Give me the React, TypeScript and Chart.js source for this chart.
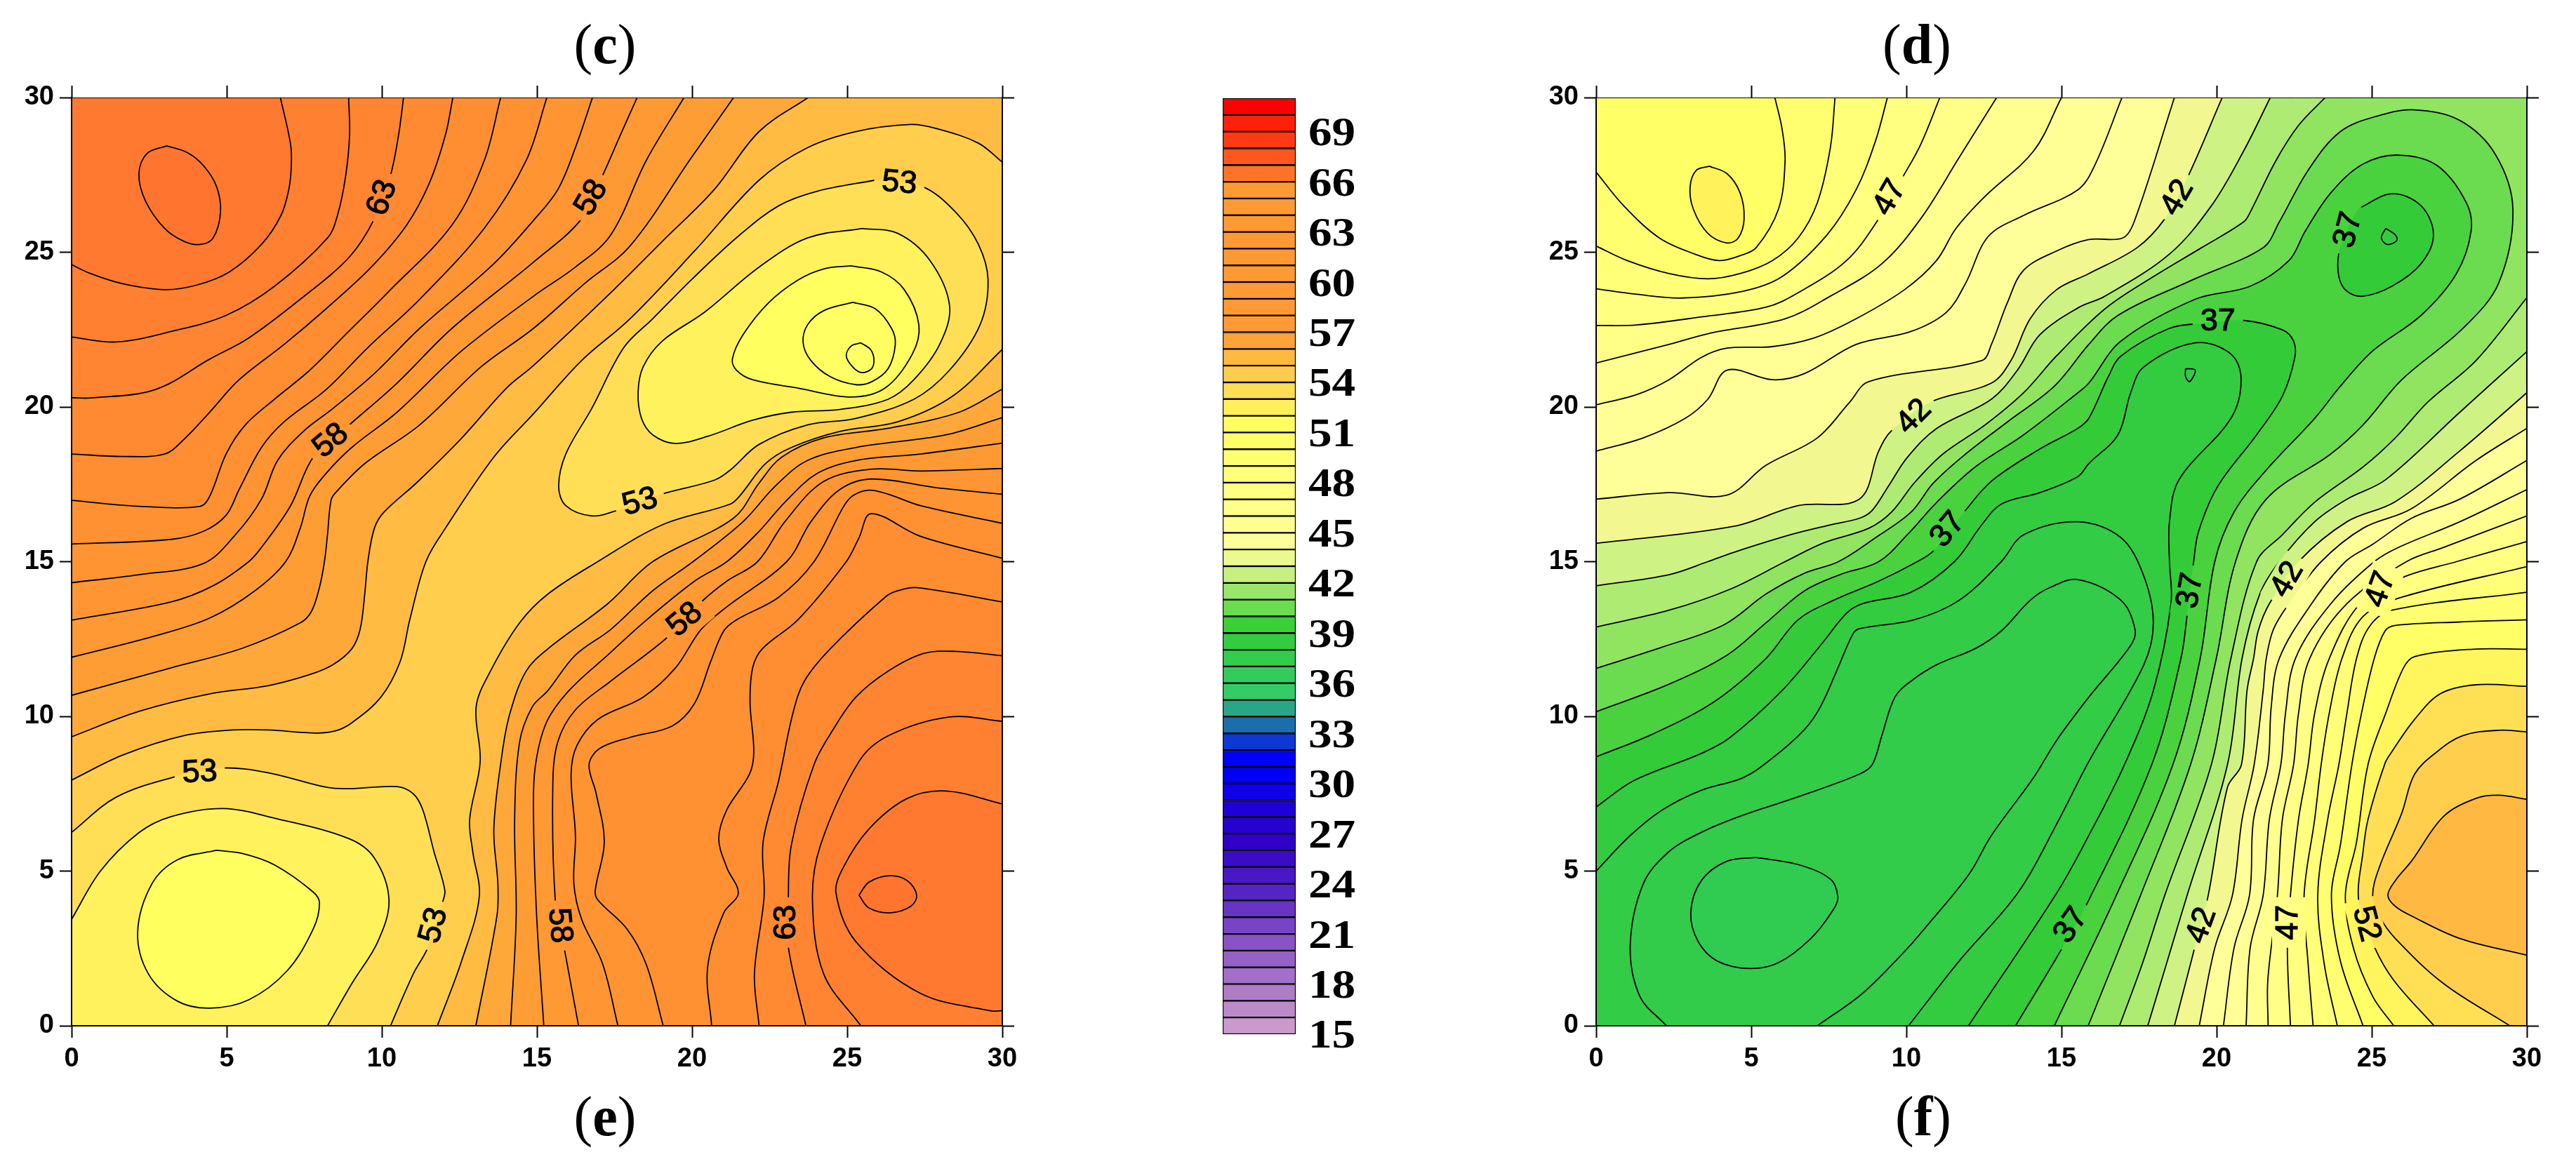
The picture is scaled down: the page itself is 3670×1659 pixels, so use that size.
import { useEffect, useRef } from 'react'
import { Chart, registerables } from 'chart.js'

Chart.register(...registerables)

type Pt = [number, number]
interface Piece { color: string; pts: Pt[]; corners?: Pt[]; closed?: boolean }
interface ContourLabel { text: string; x: number; y: number; rot: number }

// left panel contour lines, [x, y] in map units
const c66a: Pt[] = [[3.06,28.44],[2.43,28.19],[2.17,27.54],[2.38,26.66],[3,25.77],[3.63,25.35],[4.15,25.25],[4.56,25.46],[4.8,26.29],[4.67,27.13],[4.25,27.8],[3.73,28.22]]
const c65a: Pt[] = [[6.73,30],[7.06,28.48],[7.08,27.75],[7,27.02],[6.75,26.19],[6.12,25.25],[5.08,24.36],[4.04,23.94],[3,23.79],[1.65,23.98],[0.61,24.31],[0,24.6]]
const c64a: Pt[] = [[8.93,30],[8.96,28.79],[8.83,27.44],[8.57,26.19],[8.25,25.46],[6.54,23.9],[4.98,22.96],[3.21,22.44],[1.44,22.1],[0,22.26]]
const c63a: Pt[] = [[10.7,30],[10.54,28.79],[10.28,27.49],[9.76,26.08],[8.94,24.83],[7.37,23.48],[5.71,22.23],[4.46,21.55],[2.69,20.56],[0.61,20.29],[0,20.3]]
const c62a: Pt[] = [[12.29,30],[12.05,28.79],[11.53,27.23],[10.8,25.88],[9.66,24.52],[8.2,23.17],[6.85,22.02],[5.4,20.88],[4.46,19.84],[3.63,18.96],[3,18.48],[1.65,18.4],[0,18.48]]
const c61a: Pt[] = [[13.83,30],[13.3,27.96],[12.26,25.88],[10.18,23.69],[8.93,22.44],[7.68,21.19],[6.54,20.25],[5.6,19.42],[4.98,18.48],[4.46,17.13],[4.15,16.79],[2.17,16.79],[0,16.98]]
const c60a: Pt[] = [[15.32,30],[14.65,27.96],[13.3,25.77],[11.22,23.48],[9.55,21.92],[8.2,20.56],[6.85,19.52],[6.12,18.69],[5.4,17.33],[4.98,16.5],[4.25,15.98],[3.21,15.72],[0,15.57]]
const c59a: Pt[] = [[16.79,30],[16.24,28.38],[15.67,27.02],[14.89,26.03],[13.61,24.63],[11.22,22.54],[9.76,21.08],[8.41,19.94],[7.47,19.21],[6.64,18.27],[6.12,17.02],[5.29,15.88],[4.25,14.94],[2.17,14.58],[0,14.32]]
const c58a: Pt[] = [[18.23,30],[17.69,28.79],[17.12,27.49],[16.44,26.08],[14.89,24.68],[12.26,22.54],[10.49,20.77],[8.93,19.4],[7.79,18.38],[7.06,16.81],[6.12,15.46],[5.71,15],[4.56,14.22],[3.21,13.7],[0,13.11]]
const c57a: Pt[] = [[19.74,30],[18.52,27.96],[17.38,25.56],[16.24,24.52],[14.89,23.58],[12.57,21.81],[10.49,19.83],[9.03,18.69],[8.2,17.85],[7.68,17.13],[7.37,16.08],[6.9,15],[5.91,14.06],[4.46,13.18],[2.69,12.6],[0,11.91]]
const c56a: Pt[] = [[21.34,30],[19.98,28.06],[18,25.2],[16.55,24],[14.89,22.54],[13.19,21.29],[11.22,19.42],[9.45,18.17],[8.51,17.23],[8.36,16.97],[8.25,15.88],[8.15,15],[7.99,14.17],[7.73,13.39],[7.37,13.02],[5.5,12.2],[3.21,11.57],[0,10.68]]
const c55a: Pt[] = [[23.74,30],[22.16,28.9],[20.71,27.02],[19.04,25.35],[17.48,23.79],[14.89,21.34],[14.02,20.61],[12.57,18.99],[11.11,17.54],[10.07,16.6],[9.76,16.08],[9.55,15],[9.45,13.96],[9.3,12.81],[9.03,12.18],[8.41,11.66],[7.68,11.35],[6.33,10.99],[4.46,10.73],[2.17,10.16],[0,9.34]]
const c54a: Pt[] = [[30,27.91],[29.22,28.53],[27.87,29],[27.05,29.13],[25.28,28.9],[23.72,28.38],[22.16,27.33],[20.08,25.04],[18,22.85],[16.44,21.5],[14.89,19.78],[13.61,18.38],[12.05,16.08],[11.42,15],[10.9,13.12],[10.59,11.77],[9.97,10.62],[9.03,9.79],[8.51,9.53],[7.89,9.46],[6.33,9.56],[5.19,9.56],[3.63,9.38],[1.65,8.75],[0,7.94]]
const c54b: Pt[] = [[11.79,0],[12.57,2.09],[13.14,4.17],[12.93,5.63],[12.83,6.67],[13.17,8.54],[13.04,10.31],[13.5,11.46],[14.44,13.02],[15.35,13.95],[16.96,15],[19.04,16.19],[21.23,16.86],[21.54,17.13],[22.37,18.17],[23.2,18.69],[24.76,19.21],[26.63,19.52],[28.4,20.35],[30,21.86]]
const c55b: Pt[] = [[13.03,0],[13.71,3.55],[13.74,4.59],[13.61,6.36],[13.87,8.75],[14.13,10.1],[14.65,11.46],[15.35,12.18],[17.28,13.64],[18.73,15],[21.33,16.4],[22.16,17.54],[22.89,18.38],[24.24,19],[26.32,19.31],[28.61,19.83],[30,20.58]]
const c56b: Pt[] = [[14.15,0],[14.33,3.55],[14.28,6.67],[14.44,9.17],[14.85,10.31],[15.35,10.83],[16.24,11.98],[17.38,12.81],[18.73,14.06],[20.03,15],[21.64,16.29],[22.68,17.44],[23.72,18.27],[25.28,18.69],[28.19,19.1],[30,19.66]]
const c57b: Pt[] = [[15.22,0],[14.99,3.55],[14.89,6.67],[14.94,8.33],[15.3,9.79],[16.03,10.83],[17.28,11.98],[18.42,13.02],[20.08,14.37],[21.12,15],[22.16,15.98],[22.99,16.92],[24.03,17.85],[25.28,18.27],[27.36,18.48],[30,18.83]]
const c58b: Pt[] = [[16.34,0],[15.87,2.56],[15.59,4.07],[15.51,7.71],[15.67,9.17],[16.24,10.21],[17.38,11.14],[19.2,12.55],[20.29,13.69],[21.12,14.37],[22.11,15],[22.99,16.29],[24.24,17.59],[25.8,17.99],[27.36,17.93],[30,18.01]]
const c59b: Pt[] = [[17.61,0],[17.12,1.99],[16.44,3.44],[16.19,4.59],[16.24,6.15],[16.1,8.13],[16.29,9.06],[16.96,9.9],[18.42,10.62],[19.46,11.56],[20.29,12.81],[21.12,13.54],[23.05,15],[23.83,16.29],[24.76,17.33],[25.8,17.67],[27.88,17.39],[30,17.18]]
const c60b: Pt[] = [[19.07,0],[18.52,1.99],[17.9,3.13],[16.96,4.07],[16.88,4.38],[17.17,5.94],[16.91,7.5],[16.68,8.44],[17.02,8.96],[18,9.32],[19.36,9.69],[20.08,10.42],[20.6,11.77],[21.02,12.76],[21.43,13.12],[22.79,13.85],[23.93,15],[24.87,16.76],[25.18,17.13],[25.7,17.31],[26.32,17.18],[27.36,16.81],[30,16.24]]
const c61b: Pt[] = [[20.63,0],[20.5,1.88],[21.02,3.65],[21.49,4.28],[21.12,5.11],[20.86,6.05],[21.12,6.98],[21.85,8.13],[21.99,8.86],[21.87,10.42],[21.95,11.56],[22.27,12.19],[23.41,13.12],[24.97,15],[25.38,15.77],[25.77,16.55],[27.36,15.82],[30,15.11]]
const c62b: Pt[] = [[22.16,0],[22.01,1.68],[22.32,4.17],[22.29,5.94],[22.79,7.92],[23.25,10.1],[23.62,11.14],[24.45,12.18],[26.22,13.85],[26.63,14.06],[27.26,14.16],[30,13.7]]
const c63b: Pt[] = [[23.67,0],[23.1,2.56],[23.1,4.07],[23.2,5.84],[23.93,8.44],[24.55,9.58],[25.28,10.62],[26.32,11.46],[27.46,12.03],[28.5,12.1],[30,11.96]]
const c64b: Pt[] = [[25.44,0],[24.24,1.68],[23.88,4.07],[24.14,5.84],[25.38,8.54],[26.32,9.37],[28.29,9.98],[30,9.84]]
const c65b: Pt[] = [[30,7.17],[28.19,7.59],[26.94,7.35],[25.7,6.36],[24.87,5.11],[24.64,4.28],[25.28,2.72],[27.36,1.05],[29.65,0.48],[30,0.49]]
const c66b: Pt[] = [[25.38,4.22],[25.7,4.64],[26.37,4.85],[26.94,4.69],[27.24,4.22],[27.05,3.86],[26.37,3.65],[25.7,3.81]]
const c53a: Pt[] = [[0,6.25],[1.44,7.39],[3.42,8.07],[4.89,8.33],[6.33,8.18],[8.2,7.71],[8.93,7.66],[10.49,7.73],[11.01,7.5],[11.32,6.98],[11.68,5.63],[12.03,4.38],[11.95,3.97],[11.48,2.52],[11.01,1.67],[10.28,0]]
const c52a: Pt[] = [[0,3.44],[0.93,5],[2.17,6.24],[3.21,6.76],[4.88,7.02],[6.54,6.71],[8.93,6.05],[9.76,5.42],[10.23,4.07],[9.87,2.72],[9.03,1.36],[8.25,0]]
const c51a: Pt[] = [[4.67,5.67],[3.42,5.37],[2.59,4.59],[2.13,3.03],[2.48,1.67],[3.42,0.79],[4.46,0.57],[5.71,0.84],[6.95,1.78],[7.79,3.13],[7.99,3.96],[7.79,4.32],[6.54,5.2],[5.5,5.57]]
const c53b: Pt[] = [[25.9,27.33],[27.41,27.13],[28.5,26.29],[29.23,25.25],[29.54,24.1],[29.28,22.65],[28.3,21.19],[27.15,20.25],[25.28,19.63],[23.72,19.42],[22.16,18.79],[21.23,17.96],[20.71,17.63],[19.01,17.18],[17.59,16.66],[16.76,16.48],[15.93,16.81],[15.7,17.44],[15.93,18.48],[16.76,19.94],[17.8,21.92],[18.73,22.85],[20.08,24.21],[21.54,25.56],[22.79,26.5],[24.03,26.97]]
const c52b: Pt[] = [[25.49,25.77],[26.63,25.61],[27.67,24.73],[28.3,23.27],[27.98,22.02],[27.15,20.88],[26.32,20.25],[24.76,19.92],[23.2,19.83],[21.95,19.57],[20.5,19.05],[19.46,18.82],[18.73,19.1],[18.37,19.63],[18.26,20.46],[18.42,21.29],[19.04,22.13],[20.4,23.06],[22.16,24.52],[23.72,25.46]]
const c51b: Pt[] = [[25.12,24.56],[26.11,24.36],[26.84,23.79],[27.31,22.65],[27.1,21.71],[26.22,20.61],[25.12,20.32],[23.41,20.61],[21.95,20.88],[21.43,21.19],[21.3,21.55],[21.64,22.33],[22.47,23.37],[23.41,24.1],[24.24,24.46]]
const c50b: Pt[] = [[25.18,23.38],[25.91,23.17],[26.43,22.54],[26.55,22.02],[26.32,21.24],[25.8,20.82],[25.28,20.72],[24.45,20.98],[23.83,21.5],[23.58,22.07],[23.72,22.65],[24.24,23.11]]
const c49b: Pt[] = [[25.44,22.07],[25.75,21.86],[25.86,21.55],[25.79,21.24],[25.47,21.11],[25.18,21.29],[24.97,21.65],[25.13,21.97]]

// right panel contour lines
const d51a: Pt[] = [[3.65,27.78],[3.23,27.65],[3.03,27.12],[3.13,26.4],[3.6,25.61],[4.22,25.3],[4.58,25.46],[4.77,26.08],[4.64,26.92],[4.22,27.54]]
const d50a: Pt[] = [[5.76,30],[5.99,29],[6.09,27.96],[5.88,26.4],[5.16,25.15],[4.64,24.89],[3.96,24.73],[3.18,24.94],[2.04,25.46],[0.89,26.5],[0,27.59]]
const d49a: Pt[] = [[7.7,30],[7.55,28.38],[7.13,26.6],[6.51,25.46],[5.68,24.73],[4.64,24.31],[3.6,24.14],[2.35,24.31],[1,24.73],[0,25.2]]
const d48a: Pt[] = [[9.39,30],[9,28.58],[8.38,27.02],[7.44,25.56],[5.99,24.21],[4.74,23.74],[2.77,23.52],[1.31,23.64],[0,23.82]]
const d47a: Pt[] = [[11.08,30],[10.46,28.48],[9.89,27.44],[9.11,26.08],[8.07,24.73],[6.51,23.69],[5.47,23.22],[3.39,22.91],[1.31,22.65],[0,22.63]]
const d46a: Pt[] = [[12.91,30],[11.7,28.06],[10.46,26.08],[9.21,24.63],[7.55,23.58],[6.09,22.85],[3.7,22.39],[2.35,22.02],[0,21.42]]
const d45a: Pt[] = [[15,30],[14.1,28.27],[12.54,26.81],[11.6,25.77],[10.97,24.73],[9.94,23.79],[8.38,22.85],[7.03,22.23],[5.68,21.95],[4.22,21.9],[3.39,21.6],[2.35,20.88],[1.31,20.4],[0,20.07]]
const d44a: Pt[] = [[16.95,30],[16.09,27.85],[15.53,27.02],[13.78,26.19],[12.64,25.51],[11.91,24],[11.29,23.06],[10.15,22.44],[8.38,22.02],[6.72,21.08],[5.68,20.88],[4.22,21.19],[3.6,20.25],[2.87,19.63],[1.52,19],[0,18.57]]
const d43a: Pt[] = [[18.64,30],[17.34,25.98],[16.97,25.46],[15.88,25.41],[14.84,25.04],[13.78,24.42],[13.26,23.38],[12.74,22.02],[12.43,21.5],[8.79,20.82],[8.17,20.15],[7.13,19],[5.47,18.11],[4.22,17.15],[2.35,17.23],[0,17.02]]
const d42a: Pt[] = [[20.18,30],[19.05,27.39],[18.33,26.08],[17.44,25.15],[15.88,24.31],[14.84,23.79],[13.99,22.85],[13.37,21.5],[12.74,20.77],[10.77,20.15],[9.52,19.23],[9.11,18.58],[8.48,17.02],[6.51,16.81],[4.43,16.14],[0,15.59]]
const d41a: Pt[] = [[21.73,30],[20.87,28.27],[19.83,26.5],[18.48,24.94],[16.4,23.58],[15.53,23.2],[14.3,22.33],[13.58,21.19],[12.74,20.25],[10.98,19.31],[10.04,18.38],[9.42,17.44],[8.9,16.66],[8.48,16.4],[7.55,16.19],[6.3,15.88],[4.43,15.3],[3.6,15],[2.35,14.58],[0,14.22]]
const d40a: Pt[] = [[23.5,30],[22.64,29.1],[21.91,27.96],[21.08,26.29],[20.87,25.98],[19.52,25.15],[17.96,24.21],[16.4,23.17],[14.84,21.65],[13.78,20.46],[12.54,19.42],[11.18,18.48],[10.25,17.54],[9.52,16.6],[8.79,16.08],[7.34,15.61],[6.09,15],[4.32,14.11],[2.35,13.43],[0,12.89]]
const d40b: Pt[] = [[16.87,0],[17.6,1.99],[18.33,4.22],[19.83,8.44],[20.46,11.87],[21.29,15],[22.12,15.87],[23.16,16.92],[24.72,18.06],[25.76,19],[26.8,20.15],[28.36,21.5],[30,23.53]]
const d41b: Pt[] = [[17.78,0],[18.38,1.99],[19.05,4.22],[20.35,8.44],[20.82,11.87],[21.39,13.95],[22.02,15],[23.16,16.29],[24.2,17.02],[25.45,17.65],[27.84,19.83],[30,21.79]]
const d42b: Pt[] = [[18.64,0],[19.29,2.51],[19.73,4.22],[20.35,7.71],[20.8,8.44],[20.98,10.83],[21.19,11.87],[21.34,12.76],[21.7,13.64],[22.66,15.02],[24.2,16.29],[25.76,16.94],[27.84,18.58],[30,20.46]]
const d43b: Pt[] = [[19.44,0],[19.94,2.51],[20.51,4.22],[20.82,6.67],[21.21,8.44],[21.5,10.83],[21.6,11.87],[21.83,12.81],[22.33,13.64],[23.37,15],[24.72,16.08],[26.28,16.71],[28.36,18.27],[30,19.31]]
const d44b: Pt[] = [[20.22,0],[20.56,2.51],[21.06,4.22],[21.19,6.67],[21.65,8.44],[21.76,10.31],[22.02,11.87],[23.06,13.64],[24.15,15],[25.03,15.56],[26.28,16.4],[27.84,17.02],[30,18.27]]
const d45b: Pt[] = [[20.95,0],[21.08,2.51],[21.5,4.22],[21.7,6.67],[22.07,8.44],[22.22,10.1],[22.54,11.87],[23.68,13.64],[25.08,15],[25.86,15.46],[27.84,16.29],[30,17.33]]
const d46b: Pt[] = [[21.66,0],[21.65,1.47],[21.96,4.22],[22.12,6.67],[22.48,8.44],[22.64,10.1],[23,11.87],[24.2,13.64],[26.12,15],[27.32,15.46],[30,16.48]]
const d47b: Pt[] = [[22.38,0],[22.28,2.51],[22.38,4.22],[22.64,6.67],[22.95,8.44],[23.16,10.1],[23.63,11.87],[24.62,13.64],[25.95,14.47],[27.73,15],[30,15.65]]
const d48b: Pt[] = [[23.11,0],[22.95,1.99],[22.82,4.22],[23.16,6.67],[23.37,8.44],[23.63,10.1],[24.04,11.87],[24.72,13.23],[25.97,13.85],[30,14.84]]
const d49b: Pt[] = [[23.89,0],[23.47,1.99],[23.26,4.22],[23.58,6.67],[23.94,8.44],[24.2,10.1],[24.51,11.87],[24.93,12.91],[25.65,13.43],[30,14.01]]
const d50b: Pt[] = [[24.72,0],[23.99,2.09],[23.7,4.22],[23.99,5.84],[24.36,8.44],[24.67,10.1],[25.08,11.87],[25.43,12.76],[25.76,12.94],[27.84,13.05],[30,13.12]]
const d51b: Pt[] = [[25.71,0],[25.03,0.95],[24.41,2.51],[24.15,4.22],[24.51,5.94],[24.88,8.44],[25.45,10.1],[26.02,11.56],[26.38,11.93],[28.25,12.17],[30,12.17]]
const d52b: Pt[] = [[27.01,0],[25.71,1.47],[25.08,2.56],[24.58,4.02],[24.72,5.63],[24.88,6.67],[25.43,8.49],[25.65,8.86],[26.38,9.9],[27.21,10.73],[28.36,11.02],[30,10.97]]
const d53b: Pt[] = [[29.45,0],[27.32,1.36],[25.76,2.82],[25.24,3.55],[25.03,4.22],[25.24,5.11],[25.97,6.88],[26.38,8.13],[27.11,8.86],[27.94,9.38],[29.09,9.55],[30,9.5]]
const d54b: Pt[] = [[30,7.32],[29.09,7.45],[28.36,7.35],[27.32,6.77],[26.28,5.32],[25.76,4.69],[25.52,4.22],[25.76,3.86],[26.28,3.55],[27.84,2.82],[30,2.28]]
const d39: Pt[] = [[0,11.55],[2.14,12.24],[4.12,12.96],[5.47,13.95],[6.72,14.63],[7.81,15],[9,15.77],[10.15,16.6],[10.87,17.54],[11.91,18.48],[13.26,19.52],[14.77,20.67],[15.88,22.02],[16.82,22.96],[19.21,24.1],[21.5,25.15],[22.02,25.98],[22.95,27.65],[23.99,28.9],[25.24,29.42],[26.38,29.6],[27.84,29.26],[28.98,28.17],[29.55,26.4],[29.09,24],[27.94,22.54],[25.97,20.88],[24.72,19.42],[23.68,18.48],[21.6,17.02],[20.61,15],[19.99,11.87],[19.16,8.44],[17.55,4.22],[15.86,0]]
const d38: Pt[] = [[0,10.15],[2.35,11.04],[4.22,11.98],[5.47,13.02],[6.72,14.06],[7.86,14.58],[9.11,15],[10.04,15.88],[10.98,16.92],[12.22,18.06],[13.78,19.1],[15.53,20.46],[15.88,20.77],[16.92,22.13],[19.31,23.48],[21.08,23.9],[22.33,24.73],[22.85,25.67],[23.68,26.92],[24.72,27.85],[25.86,28.14],[27.11,27.8],[28.05,26.6],[28.2,25.67],[27.73,24.31],[26.59,22.96],[25.03,21.81],[23.99,20.67],[23.16,19.63],[21.6,17.96],[20.56,16.6],[19.94,15],[19.47,11.87],[18.59,8.44],[16.77,4.22],[14.77,0]]
const d37a: Pt[] = [[0,8.69],[1.83,9.43],[3.8,10.47],[5.47,11.87],[6.51,13.12],[7.65,13.75],[9.11,14.37],[10.35,15],[10.87,15.35],[11.86,16.6],[12.74,17.6],[14.3,18.64],[15.53,19.31],[15.88,19.63],[16.51,20.98],[16.92,21.65],[18.48,22.54],[19.52,22.7],[20.82,22.8],[22.12,22.49],[22.48,22.13],[22.52,21.6],[22.12,20.35],[21.29,19.1],[20.04,17.44],[19.42,15.98],[19.26,15],[19.05,13.28],[18.85,11.87],[17.91,8.44],[15.78,3.86],[14.84,2.2],[13.52,0]]
const d37b: Pt[] = [[24.56,26.4],[25.65,26.89],[26.59,26.5],[26.99,25.56],[26.59,24.63],[25.65,23.9],[24.72,23.58],[24.2,23.74],[23.94,24.21],[23.94,24.99],[24.2,25.72]]
const d36a: Pt[] = [[0,7.07],[1.21,7.92],[3.39,8.8],[4.32,9.32],[5.99,10.83],[7.23,12.29],[8.07,13.33],[8.59,13.64],[10.15,14.01],[11.55,15],[12.43,16.19],[13.06,16.86],[14.3,17.23],[15.53,17.75],[15.88,18.17],[16.82,19.1],[17.23,20.46],[17.65,21.29],[19.31,22.07],[20.46,21.71],[20.79,20.88],[20.46,19.63],[18.79,17.65],[18.48,16.29],[18.48,15],[18.53,13.64],[17.96,10.83],[17.03,8.44],[15.88,6.15],[14.84,4.28],[12,0]]
const d36b: Pt[] = [[25.45,25.77],[25.76,25.56],[25.81,25.38],[25.5,25.25],[25.31,25.46]]
const d35a: Pt[] = [[0,5],[1.1,6.15],[2.14,6.98],[3.39,7.61],[4.74,8.02],[5.68,8.65],[6.72,9.58],[7.23,10.31],[7.75,11.46],[8.27,12.65],[8.48,12.83],[10.25,13.12],[11.7,13.75],[13.06,15],[13.78,15.87],[15.53,16.29],[16.92,15.77],[17.65,14.54],[17.96,13.02],[17.65,11.66],[15.88,8.54],[14.84,6.51],[13.58,4.28],[11.7,2.09],[10.07,0]]
const d35b: Pt[] = [[19,21.24],[19.31,21.19],[19.13,20.82],[19,20.98]]
const d34: Pt[] = [[2.27,0],[1.41,0.95],[1.1,2.61],[1.52,4.59],[2.35,5.63],[3.39,6.25],[4.64,6.77],[6.51,7.4],[8.48,8.13],[8.9,8.44],[9.21,9.38],[9.63,10.62],[10.15,11.14],[10.98,11.67],[12.22,12.19],[13.06,12.76],[13.99,13.75],[14.62,14.16],[15.53,14.42],[16.92,13.75],[17.37,12.81],[17.23,12.29],[15.88,10.62],[14.84,9.22],[14.1,8.02],[12.74,6.15],[12.02,4.9],[10.67,3.24],[9.94,2.4],[8.59,1.05],[7.13,0]]
const d33: Pt[] = [[5.16,5.44],[4.22,5.32],[3.39,4.69],[3.05,3.65],[3.29,2.72],[3.91,2.09],[4.95,1.85],[5.88,2.04],[6.92,2.82],[7.65,3.76],[7.79,4.17],[7.55,4.74],[6.51,5.21]]

// painted in this order, each piece closes over its own side of the line
const leftBase = '#FFCE4C'
const leftPieces: Piece[] = [
  { color: '#FFBB42', pts: c54a, corners: [[0, 30], [30, 30]] },
  { color: '#FFA83A', pts: c55a, corners: [[0, 30]] },
  { color: '#FF9D35', pts: c56a, corners: [[0, 30]] },
  { color: '#FF9933', pts: c57a, corners: [[0, 30]] },
  { color: '#FF9633', pts: c58a, corners: [[0, 30]] },
  { color: '#FF9433', pts: c59a, corners: [[0, 30]] },
  { color: '#FF9132', pts: c60a, corners: [[0, 30]] },
  { color: '#FF8E32', pts: c61a, corners: [[0, 30]] },
  { color: '#FF8A32', pts: c62a, corners: [[0, 30]] },
  { color: '#FF8532', pts: c63a, corners: [[0, 30]] },
  { color: '#FF8031', pts: c64a, corners: [[0, 30]] },
  { color: '#FF7A30', pts: c65a, corners: [[0, 30]] },
  { color: '#FF7530', pts: c66a, closed: true },
  { color: '#FFBB42', pts: c54b, corners: [[30, 0]] },
  { color: '#FFA83A', pts: c55b, corners: [[30, 0]] },
  { color: '#FF9D35', pts: c56b, corners: [[30, 0]] },
  { color: '#FF9933', pts: c57b, corners: [[30, 0]] },
  { color: '#FF9633', pts: c58b, corners: [[30, 0]] },
  { color: '#FF9433', pts: c59b, corners: [[30, 0]] },
  { color: '#FF9132', pts: c60b, corners: [[30, 0]] },
  { color: '#FF8E32', pts: c61b, corners: [[30, 0]] },
  { color: '#FF8A32', pts: c62b, corners: [[30, 0]] },
  { color: '#FF8532', pts: c63b, corners: [[30, 0]] },
  { color: '#FF8031', pts: c64b, corners: [[30, 0]] },
  { color: '#FF7A30', pts: c65b },
  { color: '#FF7530', pts: c66b, closed: true },
  { color: '#FFDF55', pts: c53a, corners: [[0, 0]] },
  { color: '#FFF25C', pts: c52a, corners: [[0, 0]] },
  { color: '#FFFF60', pts: c51a, closed: true },
  { color: '#FFDF55', pts: c53b, closed: true },
  { color: '#FFF25C', pts: c52b, closed: true },
  { color: '#FFFF60', pts: c51b, closed: true },
  { color: '#FFFF64', pts: c50b, closed: true },
  { color: '#FFFF66', pts: c49b, closed: true },
]
const leftLabels: ContourLabel[] = [
  { text: '63', x: 10.02, y: 26.76, rot: -70 },
  { text: '58', x: 8.36, y: 18.9, rot: -40 },
  { text: '58', x: 16.76, y: 26.76, rot: -60 },
  { text: '53', x: 26.68, y: 27.23, rot: 5 },
  { text: '53', x: 18.32, y: 16.92, rot: -15 },
  { text: '53', x: 4.13, y: 8.18, rot: -3 },
  { text: '53', x: 11.68, y: 3.24, rot: -75 },
  { text: '58', x: 15.72, y: 3.24, rot: 85 },
  { text: '63', x: 23.05, y: 3.34, rot: -90 },
  { text: '58', x: 19.77, y: 13.12, rot: -40 },
]

const rightBase = '#90E460'
const rightPieces: Piece[] = [
  { color: '#ADEB72', pts: d40a, corners: [[0, 30]] },
  { color: '#CEF283', pts: d41a, corners: [[0, 30]] },
  { color: '#F2F78F', pts: d42a, corners: [[0, 30]] },
  { color: '#FFFF99', pts: d43a, corners: [[0, 30]] },
  { color: '#FFFF96', pts: d44a, corners: [[0, 30]] },
  { color: '#FFFF90', pts: d45a, corners: [[0, 30]] },
  { color: '#FFFF88', pts: d46a, corners: [[0, 30]] },
  { color: '#FFFF80', pts: d47a, corners: [[0, 30]] },
  { color: '#FFFF78', pts: d48a, corners: [[0, 30]] },
  { color: '#FFFF70', pts: d49a, corners: [[0, 30]] },
  { color: '#FFFF66', pts: d50a, corners: [[0, 30]] },
  { color: '#FFF25B', pts: d51a, closed: true },
  { color: '#ADEB72', pts: d40b, corners: [[30, 0]] },
  { color: '#CEF283', pts: d41b, corners: [[30, 0]] },
  { color: '#F2F78F', pts: d42b, corners: [[30, 0]] },
  { color: '#FFFF99', pts: d43b, corners: [[30, 0]] },
  { color: '#FFFF96', pts: d44b, corners: [[30, 0]] },
  { color: '#FFFF90', pts: d45b, corners: [[30, 0]] },
  { color: '#FFFF88', pts: d46b, corners: [[30, 0]] },
  { color: '#FFFF80', pts: d47b, corners: [[30, 0]] },
  { color: '#FFFF78', pts: d48b, corners: [[30, 0]] },
  { color: '#FFFF70', pts: d49b, corners: [[30, 0]] },
  { color: '#FFFF66', pts: d50b, corners: [[30, 0]] },
  { color: '#FFF55C', pts: d51b, corners: [[30, 0]] },
  { color: '#FFE055', pts: d52b, corners: [[30, 0]] },
  { color: '#FFCE4D', pts: d53b, corners: [[30, 0]] },
  { color: '#FFB942', pts: d54b },
  { color: '#6BDB50', pts: d39, corners: [[0, 0]] },
  { color: '#4AD23E', pts: d38, corners: [[0, 0]] },
  { color: '#33CC38', pts: d37a, corners: [[0, 0]] },
  { color: '#33CC38', pts: d37b, closed: true },
  { color: '#33CC40', pts: d36a, corners: [[0, 0]] },
  { color: '#33CC40', pts: d36b, closed: true },
  { color: '#33CC46', pts: d35a, corners: [[0, 0]] },
  { color: '#33CC46', pts: d35b, closed: true },
  { color: '#32CC4A', pts: d34 },
  { color: '#30CC52', pts: d33, closed: true },
]
const rightLabels: ContourLabel[] = [
  { text: '47', x: 9.47, y: 26.76, rot: -60 },
  { text: '42', x: 10.25, y: 19.68, rot: -45 },
  { text: '37', x: 11.34, y: 16.03, rot: -50 },
  { text: '42', x: 18.74, y: 26.76, rot: -60 },
  { text: '37', x: 20.04, y: 22.75, rot: 0 },
  { text: '37', x: 24.25, y: 25.72, rot: -75 },
  { text: '37', x: 19.16, y: 14.06, rot: -80 },
  { text: '42', x: 22.28, y: 14.42, rot: -60 },
  { text: '47', x: 25.29, y: 14.1, rot: -70 },
  { text: '37', x: 15.31, y: 3.24, rot: -55 },
  { text: '42', x: 19.52, y: 3.24, rot: -70 },
  { text: '47', x: 22.33, y: 3.34, rot: -90 },
  { text: '52', x: 24.82, y: 3.29, rot: 75 },
]

// colour bar, one cell per unit starting at 15
const barStart = 15
const barColors = ['#C99ACC','#BC8AC8','#AF7CC8','#A270C8','#9561C6','#8853C4','#7644C4','#6834C4','#5624C4','#4818C4','#3A0CC8','#3000C8','#2800D0','#2000D8','#1000E8','#0000F5','#0000FF','#0E38D4','#1C6EAA','#29A686','#33CC66','#33CC5C','#33CC4D','#33CC40','#38D136','#69DC50','#98E66B','#C5EF7F','#EBF98F','#FFFF99','#FFFF92','#FFFF8A','#FFFF82','#FFFF7A','#FFFF72','#FFFF6A','#FFFF5F','#FFF05A','#FFDD55','#FFCC4D','#FFB840','#FFA338','#FF9933','#FF9933','#FF9933','#FF9933','#FF9933','#FF9933','#FF9933','#FF9933','#FF9933','#FF7328','#FF561E','#FF3A14','#FF200A','#FF0000']
const barTicks = [15,18,21,24,27,30,33,36,39,42,45,48,51,54,57,60,63,66,69]

const axisFont = { family: '"Liberation Sans"', size: 38, weight: 'bold' as const }

const labelGaps = (ctx: CanvasRenderingContext2D, chart: any, labels: ContourLabel[]) => {
  ctx.save()
  ctx.beginPath()
  ctx.rect(0, 0, chart.width, chart.height)
  for (const l of labels) {
    ctx.save()
    ctx.translate(chart.scales.x.getPixelForValue(l.x), chart.scales.y.getPixelForValue(l.y))
    ctx.rotate((l.rot * Math.PI) / 180)
    ctx.rect(-36, -24, 72, 48)
    ctx.restore()
  }
  ctx.clip('evenodd')
}

const contourPlugin = {
  id: 'contourFill',
  beforeDatasetsDraw(chart: any, _args: any, opts: any) {
    const { ctx, chartArea: a, scales } = chart
    ctx.save()
    ctx.beginPath()
    ctx.rect(a.left, a.top, a.right - a.left, a.bottom - a.top)
    ctx.clip()
    ctx.fillStyle = opts.base
    ctx.fillRect(a.left, a.top, a.right - a.left, a.bottom - a.top)
    chart.data.datasets.forEach((ds: any, i: number) => {
      const line = chart.getDatasetMeta(i).dataset
      line.updateControlPoints(a, 'x')
      ctx.beginPath()
      line.path(ctx)
      for (const [cx, cy] of ds.corners) {
        ctx.lineTo(scales.x.getPixelForValue(cx), scales.y.getPixelForValue(cy))
      }
      ctx.closePath()
      ctx.fillStyle = ds.fillColor
      ctx.fill()
    })
    ctx.restore()
    // the lines break around their labels
    labelGaps(ctx, chart, opts.labels)
  },
  afterDatasetsDraw(chart: any, _args: any, opts: any) {
    const { ctx, scales } = chart
    ctx.restore()
    ctx.save()
    ctx.font = '45px "Liberation Sans"'
    ctx.fillStyle = '#000'
    ctx.strokeStyle = '#000'
    ctx.lineWidth = 1.2
    ctx.textAlign = 'center'
    ctx.textBaseline = 'middle'
    for (const l of opts.labels) {
      ctx.save()
      ctx.translate(scales.x.getPixelForValue(l.x), scales.y.getPixelForValue(l.y))
      ctx.rotate((l.rot * Math.PI) / 180)
      ctx.fillText(l.text, 0, 0)
      ctx.strokeText(l.text, 0, 0)
      ctx.restore()
    }
    ctx.restore()
  },
}

const barLabelPlugin = {
  id: 'barLabels',
  afterDraw(chart: any) {
    const { ctx, chartArea: a, scales } = chart
    ctx.save()
    ctx.font = 'bold 56px "Liberation Serif"'
    ctx.fillStyle = '#000'
    ctx.textBaseline = 'middle'
    for (const v of barTicks) {
      ctx.save()
      ctx.translate(a.right + 18, scales.y.getPixelForValue(v) + 5)
      ctx.scale(1.2, 1)
      ctx.fillText(String(v), 0, 0)
      ctx.restore()
    }
    ctx.restore()
  },
}

const axis = (position: string, size: number, showLabels: boolean, borderWidth: number) => ({
  type: 'linear' as const,
  position,
  min: 0,
  max: 30,
  afterFit: (s: any) => {
    if (s.isHorizontal()) s.height = size
    else s.width = size
  },
  ticks: { stepSize: 5, display: showLabels, color: '#000', font: axisFont, padding: 8, maxRotation: 0, autoSkip: false },
  grid: { drawOnChartArea: false, drawTicks: true, tickLength: 17, tickColor: '#000', tickWidth: 2, z: 1 },
  border: { color: '#000', width: borderWidth, z: 1 },
})

const ContourPanel = ({ pieces, labels, base, left }: { pieces: Piece[]; labels: ContourLabel[]; base: string; left: number }) => {
  const canvasRef = useRef<HTMLCanvasElement | null>(null)

  useEffect(() => {
    const ctx = canvasRef.current?.getContext('2d')
    if (!ctx) return
    const chart = new Chart(ctx, {
      type: 'line',
      data: {
        datasets: pieces.map((p) => ({
          data: (p.closed ? [...p.pts, p.pts[0]] : p.pts).map(([x, y]) => ({ x, y })),
          corners: p.corners ?? [],
          fillColor: p.color,
          borderColor: '#000',
          borderWidth: 1.8,
          pointRadius: 0,
          tension: 0.35,
          fill: false,
          xAxisID: 'x',
          yAxisID: 'y',
        })),
      } as any,
      options: {
        animation: false,
        responsive: false,
        devicePixelRatio: 1,
        events: [],
        layout: { padding: 0 },
        plugins: {
          legend: { display: false },
          tooltip: { enabled: false },
          contourFill: { base, labels },
        } as any,
        scales: {
          x: axis('bottom', 78, true, 2),
          x2: axis('top', 49, false, 1),
          y: axis('left', 82, true, 2),
          y2: axis('right', 70, false, 2),
        } as any,
      },
      plugins: [contourPlugin],
    })
    return () => chart.destroy()
  }, [pieces, labels, base])

  return <canvas ref={canvasRef} width={1478} height={1450} style={{ position: 'absolute', left, top: 90 }} />
}

const ColorBar = () => {
  const canvasRef = useRef<HTMLCanvasElement | null>(null)

  useEffect(() => {
    const ctx = canvasRef.current?.getContext('2d')
    if (!ctx) return
    const chart = new Chart(ctx, {
      type: 'bar',
      data: {
        labels: [''],
        datasets: barColors.map((color, i) => ({
          data: [[barStart + i, barStart + i + 1]],
          backgroundColor: color,
          borderColor: '#000',
          borderWidth: 1.5,
          borderSkipped: false,
          barPercentage: 1,
          categoryPercentage: 1,
          grouped: false,
        })),
      } as any,
      options: {
        animation: false,
        responsive: false,
        devicePixelRatio: 1,
        events: [],
        layout: { padding: { left: 42, right: 154, top: 30, bottom: 36 } },
        plugins: { legend: { display: false }, tooltip: { enabled: false } },
        scales: {
          x: { display: false },
          y: { display: false, min: 15, max: 71 },
        },
      },
      plugins: [barLabelPlugin],
    })
    return () => chart.destroy()
  }, [])

  return <canvas ref={canvasRef} width={300} height={1400} style={{ position: 'absolute', left: 1700, top: 110 }} />
}

const PanelTitle = ({ letter, center, top }: { letter: string; center: number; top: number }) => (
  <div
    style={{
      position: 'absolute',
      left: center - 100,
      top,
      width: 200,
      textAlign: 'center',
      font: '80px/88px "Liberation Serif"',
      color: '#000',
    }}
  >
    (<b>{letter}</b>)
  </div>
)

const App = () => (
  <div style={{ position: 'absolute', left: 0, top: 0, width: 3670, height: 1659, overflow: 'hidden', background: '#fff' }}>
    <PanelTitle letter="c" center={862} top={19} />
    <PanelTitle letter="d" center={2731} top={19} />
    <ContourPanel pieces={leftPieces} labels={leftLabels} base={leftBase} left={20} />
    <ColorBar />
    <ContourPanel pieces={rightPieces} labels={rightLabels} base={rightBase} left={2192} />
    <PanelTitle letter="e" center={862} top={1547} />
    <PanelTitle letter="f" center={2740} top={1547} />
  </div>
)

export default App
